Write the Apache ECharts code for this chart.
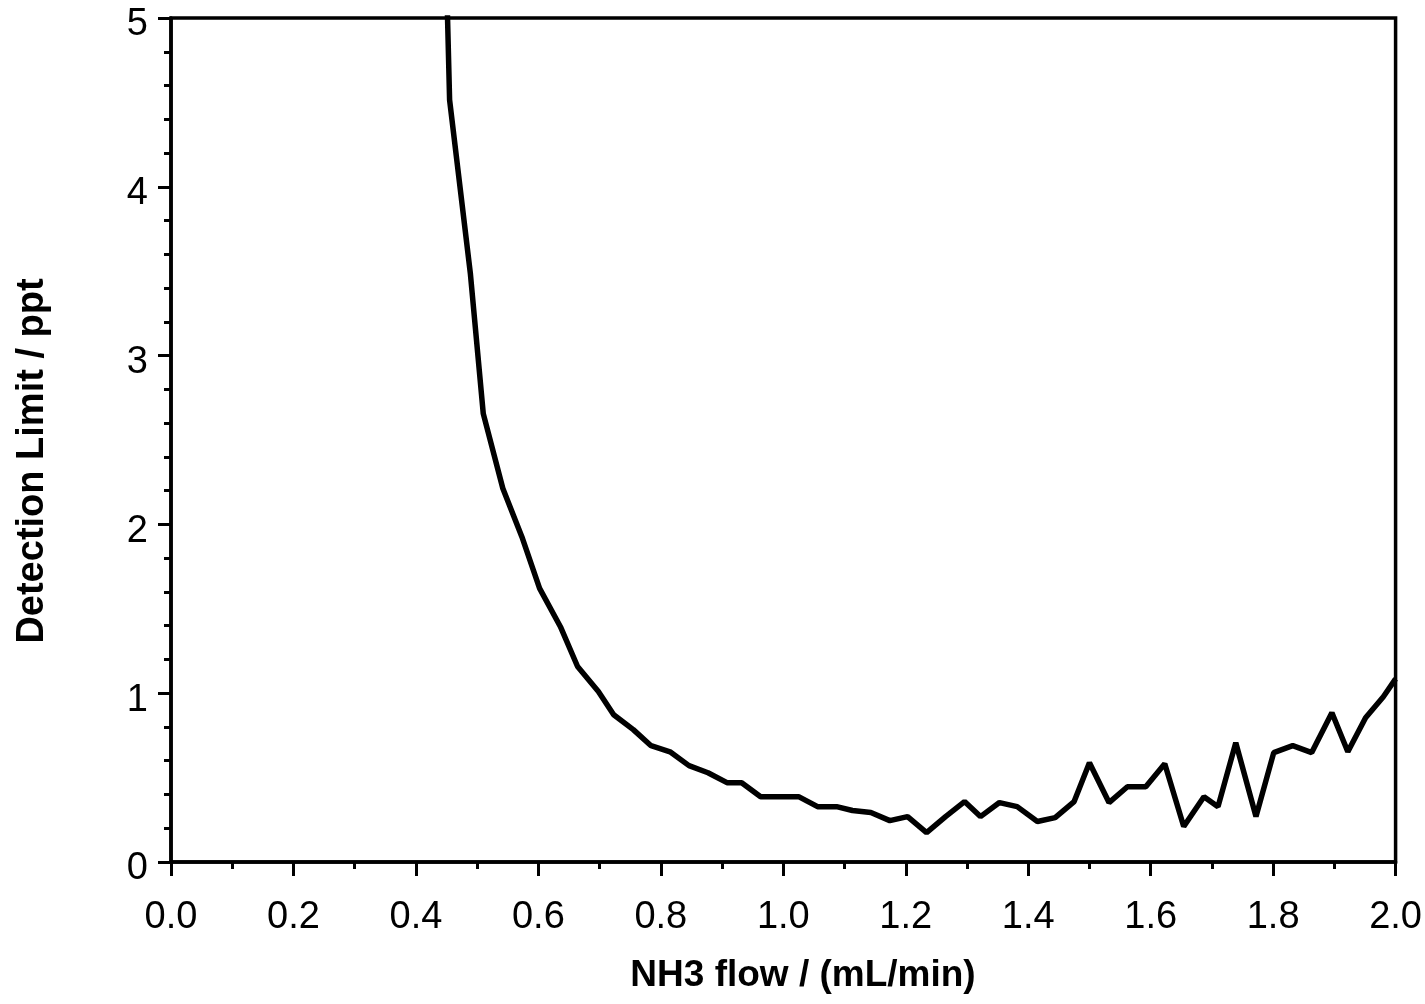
<!DOCTYPE html>
<html>
<head>
<meta charset="utf-8">
<script src="https://cdn.jsdelivr.net/npm/echarts@6/dist/echarts.min.js"></script>
<style>
html,body{margin:0;padding:0;background:#fff;}
#chart{width:1425px;height:1004px;}
</style>
</head>
<body>
<div id="chart"></div>
<script>
// NH3 flow (mL/min)
const flowValues = [0.424, 0.455, 0.489, 0.510, 0.542, 0.573, 0.602, 0.636, 0.664, 0.698,
  0.723, 0.755, 0.784, 0.815, 0.846, 0.877, 0.908, 0.932, 0.963, 0.994,
  1.025, 1.056, 1.087, 1.113, 1.143, 1.174, 1.203, 1.234, 1.265, 1.296,
  1.322, 1.353, 1.382, 1.415, 1.444, 1.475, 1.500, 1.532, 1.562, 1.592,
  1.623, 1.654, 1.687, 1.710, 1.739, 1.772, 1.801, 1.832, 1.863, 1.896,
  1.922, 1.951, 1.980, 2.000];
// Detection limit (ppt)
const limitValues = [9.0, 4.515, 3.484, 2.656, 2.213, 1.927, 1.621, 1.394, 1.158, 1.010,
  0.872, 0.784, 0.689, 0.653, 0.571, 0.529, 0.470, 0.470, 0.387, 0.387,
  0.387, 0.328, 0.328, 0.305, 0.293, 0.245, 0.269, 0.174, 0.269, 0.358,
  0.269, 0.352, 0.328, 0.240, 0.263, 0.358, 0.588, 0.352, 0.446, 0.446,
  0.582, 0.210, 0.387, 0.328, 0.707, 0.269, 0.648, 0.689, 0.648, 0.884,
  0.653, 0.855, 0.979, 1.085];
const xTitle = 'NH3 flow / (mL/min)';
const yTitle = 'Detection Limit / ppt';

const seriesData = flowValues.map((x, i) => [x, limitValues[i]]);
const FONT = '"Liberation Sans", Arial, sans-serif';

const chart = echarts.init(document.getElementById('chart'), null, {renderer: 'canvas'});
chart.setOption({
  animation: false,
  backgroundColor: '#fff',
  grid: {left: 171, right: 28, top: 18, bottom: 142, show: true, borderColor: '#000', borderWidth: 3.5, backgroundColor: 'transparent'},
  xAxis: {
    type: 'value', min: 0, max: 2, interval: 0.2,
    axisLine: {show: true, onZero: false, lineStyle: {color: '#000', width: 3.5}},
    axisTick: {show: true, length: 14, lineStyle: {color: '#000', width: 3}},
    minorTick: {show: true, splitNumber: 2, length: 7, lineStyle: {color: '#000', width: 3}},
    splitLine: {show: false},
    axisLabel: {color: '#000', fontSize: 38, fontFamily: FONT, margin: 37,
      showMinLabel: true, showMaxLabel: true,
      formatter: v => v.toFixed(1)}
  },
  yAxis: {
    type: 'value', min: 0, max: 5, interval: 1,
    axisLine: {show: true, onZero: false, lineStyle: {color: '#000', width: 3.5}},
    axisTick: {show: true, length: 13, lineStyle: {color: '#000', width: 3}},
    minorTick: {show: true, splitNumber: 5, length: 7, lineStyle: {color: '#000', width: 3}},
    splitLine: {show: false},
    axisLabel: {color: '#000', fontSize: 38, fontFamily: FONT, margin: 23,
      formatter: v => '{n|' + v + '}',
      rich: {n: {fontSize: 38, fontFamily: FONT, color: '#000', padding: [14, 0, 0, 0]}}}
  },
  graphic: [
    {type: 'text', x: 803, y: 976, style: {text: xTitle, fill: '#000', font: 'bold 37px ' + FONT, textAlign: 'center', textVerticalAlign: 'middle'}},
    {type: 'text', x: 33, y: 461, rotation: Math.PI / 2, style: {text: yTitle, fill: '#000', font: 'bold 38px ' + FONT, textAlign: 'center', textVerticalAlign: 'middle'}}
  ],
  series: [{
    type: 'line', data: seriesData, showSymbol: false, clip: true,
    lineStyle: {color: '#000', width: 5.5}, z: 1
  }]
});
</script>
</body>
</html>
